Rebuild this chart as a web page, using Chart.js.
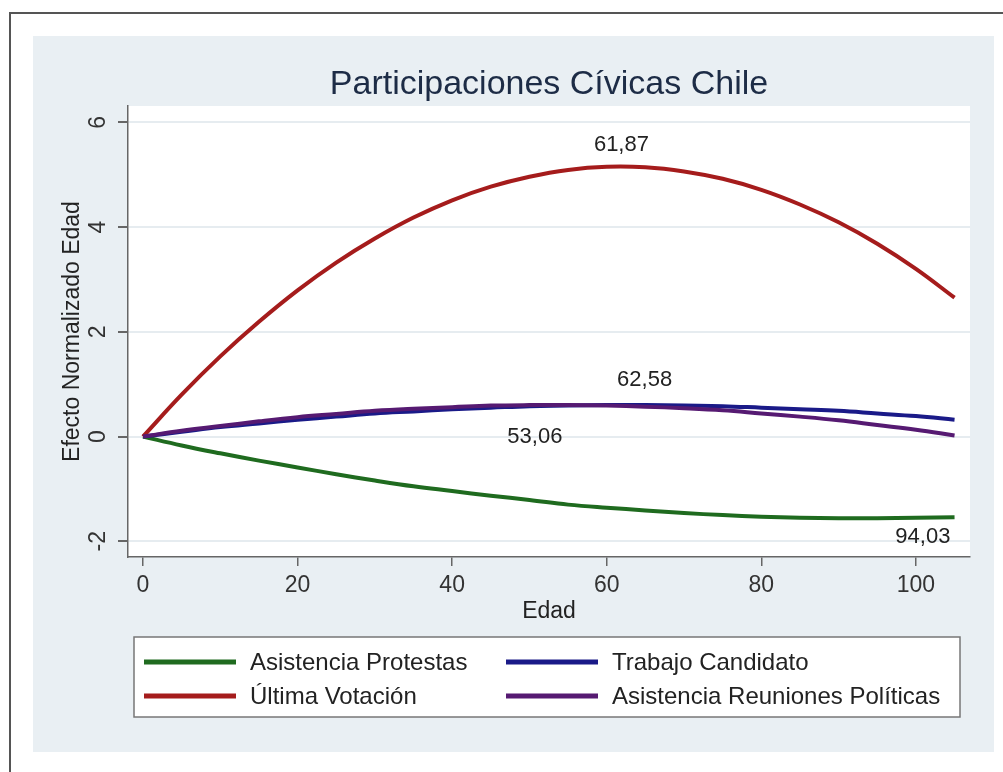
<!DOCTYPE html>
<html>
<head>
<meta charset="utf-8">
<script src="https://cdn.jsdelivr.net/npm/chart.js@4/dist/chart.umd.min.js"></script>
<style>
  html, body { margin: 0; padding: 0; background: #fff; }
  #wrap { width: 1003px; height: 772px; }
</style>
</head>
<body>
<div id="wrap"><canvas id="civicChart"></canvas></div>
<script>
// edades (eje x)
const edades = [0, 5, 10, 15, 20, 25, 30, 35, 40, 45, 50, 55, 60, 65, 70, 75, 80, 85, 90, 95, 100, 105];

// efectos
const asistenciaProtestas = [0, -0.17, -0.32, -0.46, -0.59, -0.72, -0.84, -0.95, -1.04, -1.13, -1.21, -1.30, -1.36, -1.41, -1.46, -1.50, -1.53, -1.55, -1.56, -1.56, -1.55, -1.54];
const trabajoCandidato = [0, 0.09, 0.18, 0.25, 0.32, 0.38, 0.44, 0.48, 0.52, 0.55, 0.58, 0.59, 0.60, 0.60, 0.59, 0.58, 0.55, 0.52, 0.49, 0.44, 0.39, 0.32];
const ultimaVotacion = [0, 0.80, 1.53, 2.19, 2.79, 3.32, 3.78, 4.18, 4.51, 4.77, 4.96, 5.09, 5.15, 5.14, 5.06, 4.92, 4.71, 4.43, 4.09, 3.68, 3.20, 2.65];
const reunionesPoliticas = [0, 0.11, 0.20, 0.29, 0.37, 0.43, 0.49, 0.53, 0.56, 0.59, 0.60, 0.60, 0.59, 0.57, 0.54, 0.50, 0.44, 0.38, 0.31, 0.22, 0.13, 0.02];

const xTicks = [0, 20, 40, 60, 80, 100];
const yTicks = [-2, 0, 2, 4, 6];

// etiquetas de maximos / minimos
const notaTextos = ["61,87", "62,58", "53,06", "94,03"];
const notaX = [61.9, 64.9, 50.7, 100.9];
const notaY = [5.57, 1.08, 0.0, -1.92];

const titulo = "Participaciones Cívicas Chile";

const FONT = "'Liberation Sans', Arial, Helvetica, sans-serif";

function toPoints(values) {
    return values.map((v, i) => ({ x: edades[i], y: v }));
}

const series = [
    { label: "Asistencia Protestas", data: asistenciaProtestas, color: "#1f6b1f", order: 4 },
    { label: "Trabajo Candidato", data: trabajoCandidato, color: "#1a1a88", order: 3 },
    { label: "Última Votación", data: ultimaVotacion, color: "#a51c1c", order: 2 },
    { label: "Asistencia Reuniones Políticas", data: reunionesPoliticas, color: "#561a72", order: 1 }
];

const fondoPlugin = {
    id: "fondo",
    beforeDraw(chart) {
        const c = chart.ctx;
        const a = chart.chartArea;
        c.save();
        c.fillStyle = "#ffffff";
        c.fillRect(0, 0, chart.width, chart.height);
        c.fillStyle = "#e9eff3";
        c.fillRect(33, 36, 961, 716);
        c.fillStyle = "#ffffff";
        c.fillRect(a.left, a.top, a.right - a.left, a.bottom - a.top);
        c.strokeStyle = "#555";
        c.lineWidth = 2;
        c.beginPath();
        c.moveTo(1003, 13);
        c.lineTo(10, 13);
        c.lineTo(10, 772);
        c.stroke();
        c.restore();
    }
};

const extrasPlugin = {
    id: "extras",
    afterDraw(chart) {
        const c = chart.ctx;
        const a = chart.chartArea;
        const xs = chart.scales.x;
        const ys = chart.scales.y;
        c.save();

        // titulo centrado sobre el area del grafico
        c.fillStyle = "#1d2c46";
        c.font = "34px " + FONT;
        c.textAlign = "center";
        c.textBaseline = "alphabetic";
        c.fillText(titulo, (a.left + a.right) / 2, 94);

        // etiquetas y rotadas
        c.fillStyle = "#333";
        c.font = "23px " + FONT;
        c.textAlign = "center";
        c.textBaseline = "middle";
        yTicks.forEach(v => {
            c.save();
            c.translate(99, ys.getPixelForValue(v));
            c.rotate(-Math.PI / 2);
            c.fillText(String(v), 0, 0);
            c.restore();
        });

        // notas
        c.fillStyle = "#222";
        c.font = "22px " + FONT;
        notaTextos.forEach((t, i) => {
            c.fillText(t, xs.getPixelForValue(notaX[i]), ys.getPixelForValue(notaY[i]));
        });

        // leyenda
        const box = { left: 134, top: 637, width: 826, height: 80 };
        c.fillStyle = "#ffffff";
        c.fillRect(box.left, box.top, box.width, box.height);
        c.strokeStyle = "#777";
        c.lineWidth = 1.5;
        c.strokeRect(box.left, box.top, box.width, box.height);

        const colX = [144, 506];
        const rowY = [662, 696];
        c.font = "24px " + FONT;
        c.textAlign = "left";
        chart.data.datasets.forEach((ds, i) => {
            const x = colX[i % 2];
            const y = rowY[Math.floor(i / 2)];
            c.strokeStyle = ds.borderColor;
            c.lineWidth = 5;
            c.beginPath();
            c.moveTo(x, y);
            c.lineTo(x + 92, y);
            c.stroke();
            c.fillStyle = "#222";
            c.fillText(ds.label, x + 106, y + 1);
        });
        c.restore();
    }
};

const ctx = document.getElementById("civicChart").getContext("2d");

const civicChart = new Chart(ctx, {
    type: "line",
    data: {
        datasets: series.map(s => ({
            label: s.label,
            data: toPoints(s.data),
            borderColor: s.color,
            backgroundColor: s.color,
            borderWidth: 4,
            tension: 0.4,
            pointRadius: 0,
            fill: false,
            order: s.order
        }))
    },
    options: {
        responsive: true,
        maintainAspectRatio: false,
        animation: false,
        devicePixelRatio: 1,
        layout: {
            padding: { left: 33, right: 33, top: 106, bottom: 145 }
        },
        plugins: {
            legend: { display: false },
            tooltip: { enabled: false },
            title: { display: false }
        },
        scales: {
            x: {
                type: "linear",
                min: -1.94,
                max: 107,
                afterFit: scale => { scale.height = 70; },
                afterBuildTicks: scale => { scale.ticks = xTicks.map(v => ({ value: v })); },
                ticks: {
                    color: "#333",
                    padding: 6,
                    maxRotation: 0,
                    font: { family: FONT, size: 23 }
                },
                grid: {
                    drawOnChartArea: false,
                    drawTicks: true,
                    tickLength: 9,
                    tickColor: "#666",
                    lineWidth: 1.5
                },
                border: { display: true, color: "#666", width: 1.5 },
                title: {
                    display: true,
                    text: "Edad",
                    color: "#222",
                    font: { family: FONT, size: 23 },
                    padding: { top: 0, bottom: 2 }
                }
            },
            y: {
                type: "linear",
                min: -2.30,
                max: 6.31,
                afterFit: scale => { scale.width = 95; },
                afterBuildTicks: scale => { scale.ticks = yTicks.map(v => ({ value: v })); },
                ticks: { display: false },
                grid: {
                    color: "#e6ecf0",
                    lineWidth: 2,
                    drawTicks: true,
                    tickLength: 10,
                    tickColor: "#666"
                },
                border: { display: true, color: "#666", width: 1.5 },
                title: {
                    display: true,
                    text: "Efecto Normalizado Edad",
                    color: "#222",
                    font: { family: FONT, size: 23 },
                    padding: { top: 26, bottom: 0 }
                }
            }
        }
    },
    plugins: [fondoPlugin, extrasPlugin]
});
</script>
</body>
</html>
